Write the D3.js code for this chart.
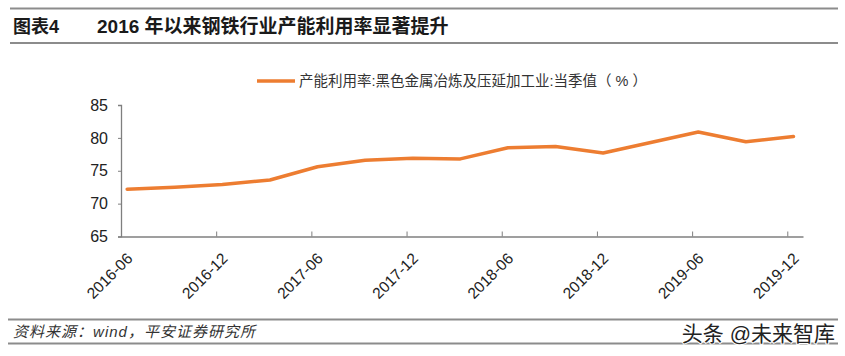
<!DOCTYPE html>
<html><head><meta charset="utf-8">
<script src="https://cdn.jsdelivr.net/npm/d3@7/dist/d3.min.js"></script>
<style>
body{margin:0;background:#fff;}
svg{display:block;font-family:"Liberation Sans","Noto Sans CJK SC",sans-serif;}
</style></head>
<body>
<svg id="c" width="845" height="356"></svg>
<script>
const categories = ["2016-06","2016-09","2016-12","2017-03","2017-06","2017-09","2017-12","2018-03","2018-06","2018-09","2018-12","2019-03","2019-06","2019-09","2019-12"];
const values = [72.2,72.5,72.9,73.6,75.6,76.6,76.9,76.8,78.5,78.7,77.7,79.3,80.9,79.4,80.2];
const tickLabels = ["2016-06","2016-12","2017-06","2017-12","2018-06","2018-12","2019-06","2019-12"];
const yTicks = [65,70,75,80,85];
const seriesName = "产能利用率:黑色金属冶炼及压延加工业:当季值（ % ）";
const titleLeft = "图表4";
const titleText = "2016 年以来钢铁行业产能利用率显著提升";
const sourceText = "资料来源：wind，平安证券研究所";
const watermark = "头条 @未来智库";

const svg = d3.select("#c");
const axisColor = "#7f7f7f";
const lineColor = "#ED7D31";

// header
svg.append("line").attr("x1",10).attr("x2",838).attr("y1",8.5).attr("y2",8.5).attr("stroke","#8c8c8c").attr("stroke-width",2);
svg.append("line").attr("x1",10).attr("x2",838).attr("y1",43).attr("y2",43).attr("stroke","#8c8c8c").attr("stroke-width",2);
svg.append("text").attr("x",13).attr("y",33).attr("font-size",18).attr("font-weight","bold").attr("fill","#1a1a1a").text(titleLeft);
svg.append("text").attr("x",97).attr("y",33).attr("font-size",19).attr("font-weight","bold").attr("fill","#1a1a1a").text(titleText);

// scales
const x = d3.scaleLinear().domain([-0.13, 14.2]).range([121, 803]);
const y = d3.scaleLinear().domain([65, 85]).range([236.5, 105]);

// y axis
const yAxis = d3.axisLeft(y).tickValues(yTicks).tickSize(3).tickPadding(10);
const gy = svg.append("g").attr("transform","translate(121,0)").call(yAxis);
gy.select(".domain").attr("stroke",axisColor).attr("stroke-width",1.3);
gy.selectAll(".tick line").attr("stroke",axisColor);
gy.selectAll(".tick text").attr("font-size",16).attr("fill","#222").attr("font-family","Liberation Sans, sans-serif");

// x axis
const tickPos = tickLabels.map(t => categories.indexOf(t) - 0.13);
const xAxis = d3.axisBottom(x).tickValues(tickPos).tickFormat((d,i)=>tickLabels[i]).tickSize(-5).tickSizeOuter(0).tickPadding(0);
const gx = svg.append("g").attr("transform","translate(0,"+y(65)+")").call(xAxis);
gx.select(".domain").attr("stroke",axisColor).attr("stroke-width",1.3);
gx.selectAll(".tick line").attr("stroke",axisColor);
gx.selectAll(".tick text").attr("font-size",15.5).attr("fill","#222")
  .attr("text-anchor","end").attr("dy",0).attr("y",0)
  .attr("transform","translate(12,23) rotate(-45)");

// line
const line = d3.line().x((d,i)=>x(i)).y(d=>y(d));
svg.append("path").datum(values).attr("d",line).attr("fill","none")
  .attr("stroke",lineColor).attr("stroke-width",3.5).attr("stroke-linejoin","round").attr("stroke-linecap","round");

// legend
svg.append("line").attr("x1",257).attr("x2",295).attr("y1",81).attr("y2",81).attr("stroke",lineColor).attr("stroke-width",3.5);
svg.append("text").attr("x",299).attr("y",86).attr("font-size",14.5).attr("fill","#333").text(seriesName);

// footer
svg.append("line").attr("x1",8).attr("x2",838).attr("y1",319.5).attr("y2",319.5).attr("stroke","#8c8c8c").attr("stroke-width",2);
svg.append("line").attr("x1",8).attr("x2",838).attr("y1",343.5).attr("y2",343.5).attr("stroke","#8c8c8c").attr("stroke-width",2);
svg.append("text").attr("x",13).attr("y",337).attr("font-size",15).attr("font-style","italic").attr("fill","#333")
  .attr("textLength",242).attr("lengthAdjust","spacing").text(sourceText);
svg.append("text").attr("x",835).attr("y",341).attr("text-anchor","end").attr("font-size",21).attr("fill","#222")
  .attr("stroke","#fff").attr("stroke-width",2).attr("paint-order","stroke").text(watermark);
</script>
</body></html>
